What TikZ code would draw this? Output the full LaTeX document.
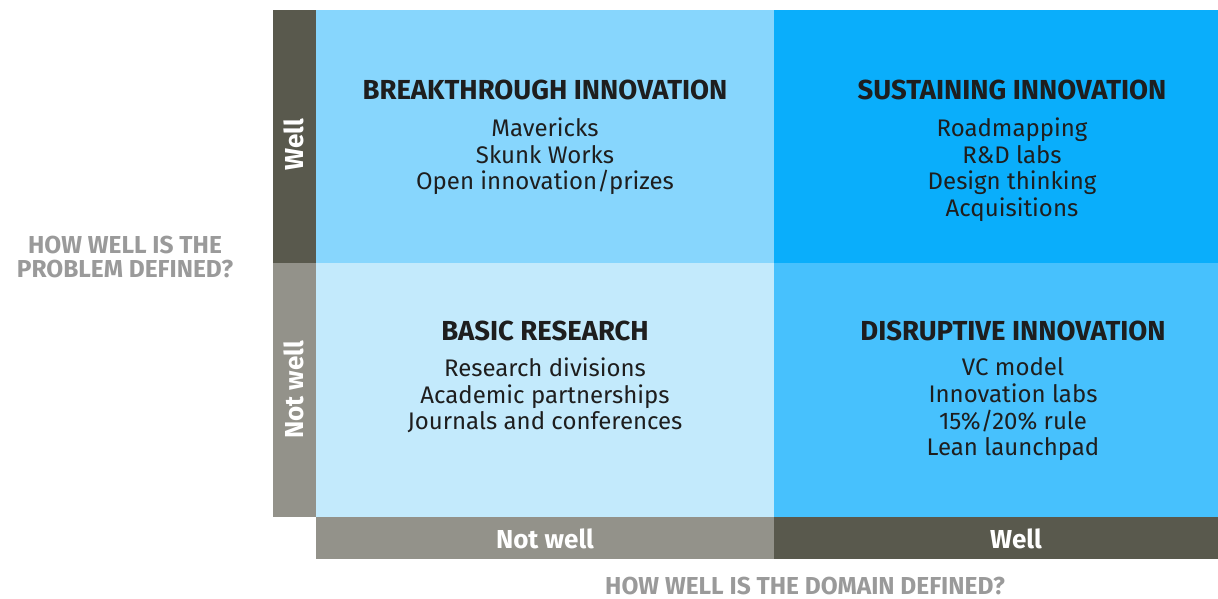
\documentclass[tikz,border=0pt]{standalone}
\usepackage{fontspec}
\setmainfont{Fira Sans}
\definecolor{qtl}{HTML}{87D6FD}
\definecolor{qtr}{HTML}{0AAEFB}
\definecolor{qbl}{HTML}{C3EAFC}
\definecolor{qbr}{HTML}{47C1FD}
\definecolor{bardark}{HTML}{59594D}
\definecolor{barlight}{HTML}{93928A}
\definecolor{axisgrey}{HTML}{9A9A9A}
\definecolor{inkdark}{HTML}{1E1E1E}

\begin{document}
\begin{tikzpicture}[x=1pt,y=-1pt,
  quad/.style={draw=none,inner sep=0pt,anchor=north west},
  title/.style={font=\fontsize{27.5}{30}\selectfont\bfseries,text=inkdark},
  items/.style={font=\fontsize{24}{26.8}\selectfont,text=inkdark,align=center,anchor=north},
  barlabel/.style={font=\fontsize{26}{28}\selectfont\bfseries,text=white},
  axislabel/.style={font=\fontsize{24.5}{24}\selectfont\bfseries,text=axisgrey,align=center,inner sep=1pt}]
\useasboundingbox (0,0) rectangle (1218,599);
% quadrants
\node [quad,fill=qtl,minimum width=458,minimum height=253] (TL) at(316,10){};
\node [quad,fill=qtr,minimum width=444,minimum height=253] (TR) at(774,10){};
\node [quad,fill=qbl,minimum width=458,minimum height=254] (BL) at(316,263){};
\node [quad,fill=qbr,minimum width=444,minimum height=254] (BR) at(774,263){};
% side bars
\node [quad,fill=bardark,minimum width=43,minimum height=253] (PW) at(273,10){};
\node [quad,fill=barlight,minimum width=43,minimum height=254] (PN) at(273,263){};
\node [quad,fill=barlight,minimum width=458,minimum height=42] (DN) at(316,517){};
\node [quad,fill=bardark,minimum width=444,minimum height=42] (DW) at(774,517){};
\node [barlabel,rotate=90] (pwell) at(294,145){Well};
\node [barlabel,rotate=90] (pnot) at(294,390){Not well};
\node [barlabel] (dnot) at(545,539){Not well};
\node [barlabel] (dwell) at(1016,539){Well};
% quadrant texts
\node [title] (breakthrough) at(545,90){BREAKTHROUGH INNOVATION};
\node [items] (breakthroughlist) at(545,114){Mavericks\\Skunk Works\\Open innovation/prizes};
\node [title] (sustaining) at(1012,90){SUSTAINING INNOVATION};
\node [items] (sustaininglist) at(1012,114){Roadmapping\\R\&D labs\\Design thinking\\Acquisitions};
\node [title] (basic) at(545,331){BASIC RESEARCH};
\node [items] (basiclist) at(545,354){Research divisions\\Academic partnerships\\Journals and conferences};
\node [title] (disruptive) at(1013,331){DISRUPTIVE INNOVATION};
\node [items] (disruptivelist) at(1013,354){VC model\\Innovation labs\\15\%/20\% rule\\Lean launchpad};
% axis labels
\node [axislabel] (problem) at(125,257){HOW WELL IS THE\\PROBLEM DEFINED?};
\node [axislabel] (domain) at(805,586){HOW WELL IS THE DOMAIN DEFINED?};
\end{tikzpicture}
\end{document}
